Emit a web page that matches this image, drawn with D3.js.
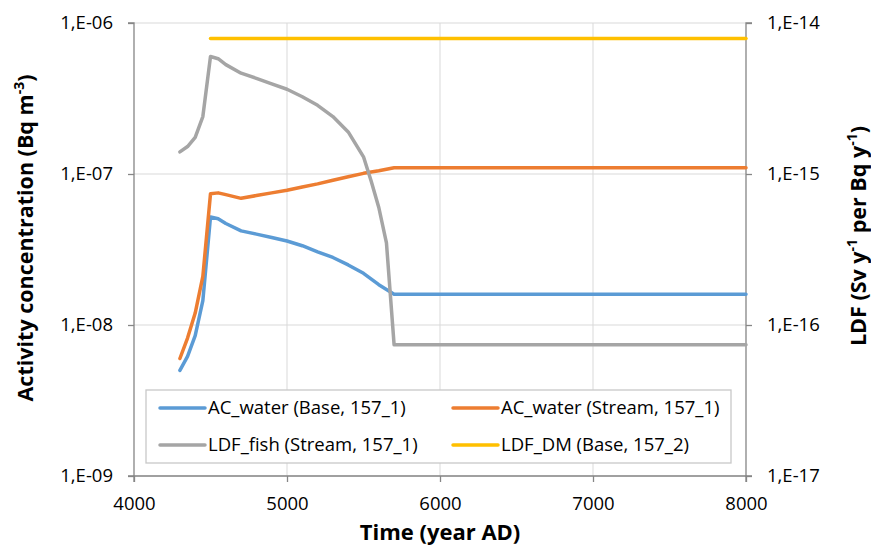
<!DOCTYPE html>
<html>
<head>
<meta charset="utf-8">
<script src="https://d3js.org/d3.v7.min.js"></script>
<style>
  body { margin: 0; background: #fff; }
  text { font-family: "Open Sans", sans-serif; fill: #000; }
</style>
</head>
<body>
<svg id="vis"></svg>
<script>
  // data
  var years = [4300, 4350, 4400, 4450, 4500, 4550, 4600, 4700, 4800, 4900, 5000,
               5100, 5200, 5300, 5400, 5500, 5600, 5700, 8000]
  var acBase = [5.0e-9, 6.2e-9, 8.5e-9, 1.45e-8, 5.2e-8, 5.05e-8, 4.7e-8, 4.2e-8, 4.0e-8, 3.8e-8, 3.6e-8,
                3.35e-8, 3.05e-8, 2.8e-8, 2.5e-8, 2.2e-8, 1.85e-8, 1.6e-8, 1.6e-8]
  var acStream = [6.0e-9, 8.2e-9, 1.2e-8, 2.1e-8, 7.4e-8, 7.5e-8, 7.3e-8, 6.9e-8, 7.2e-8, 7.5e-8, 7.8e-8,
                  8.2e-8, 8.6e-8, 9.1e-8, 9.6e-8, 1.01e-7, 1.05e-7, 1.1e-7, 1.1e-7]
  var fishYears = [4300, 4350, 4400, 4450, 4500, 4550, 4600, 4700, 4800, 4900, 5000,
                   5100, 5200, 5300, 5400, 5500, 5550, 5600, 5650, 5700, 8000]
  var ldfFish = [1.4e-15, 1.52e-15, 1.75e-15, 2.4e-15, 6.0e-15, 5.8e-15, 5.3e-15, 4.65e-15, 4.3e-15, 3.95e-15, 3.64e-15,
                 3.25e-15, 2.85e-15, 2.4e-15, 1.9e-15, 1.3e-15, 9.0e-16, 6.0e-16, 3.5e-16, 7.4e-17, 7.4e-17]
  var dmYears = [4500, 8000]
  var ldfDM = [7.9e-15, 7.9e-15]

  var xTicks = [4000, 5000, 6000, 7000, 8000]
  var yLeftTicks = [1e-6, 1e-7, 1e-8, 1e-9]
  var yLeftLabels = ['1,E-06', '1,E-07', '1,E-08', '1,E-09']
  var yRightTicks = [1e-14, 1e-15, 1e-16, 1e-17]
  var yRightLabels = ['1,E-14', '1,E-15', '1,E-16', '1,E-17']

  var series = [
    {name: 'AC_water (Base, 157_1)', x: years, y: acBase, axis: 'left', color: '#5B9BD5'},
    {name: 'AC_water (Stream, 157_1)', x: years, y: acStream, axis: 'left', color: '#ED7D31'},
    {name: 'LDF_fish (Stream, 157_1)', x: fishYears, y: ldfFish, axis: 'right', color: '#A5A5A5'},
    {name: 'LDF_DM (Base, 157_2)', x: dmYears, y: ldfDM, axis: 'right', color: '#FFC000'}
  ]

  var margin = {top: 23, right: 125, bottom: 70, left: 134}
  var W = 871, H = 546
  var width = W - margin.left - margin.right
  var height = H - margin.top - margin.bottom

  var svg = d3.select('#vis').attr('width', W).attr('height', H)
  var g = svg.append('g').attr('transform', 'translate(' + margin.left + ',' + margin.top + ')')

  var x = d3.scaleLinear().domain([4000, 8000]).range([0, width])
  var yL = d3.scaleLog().domain([1e-9, 1e-6]).range([height, 0])
  var yR = d3.scaleLog().domain([1e-17, 1e-14]).range([height, 0])

  // gridlines
  g.append('g').selectAll('line.h')
    .data(yLeftTicks)
    .enter().append('line')
      .attr('x1', 0).attr('x2', width)
      .attr('y1', function (d) { return yL(d) }).attr('y2', function (d) { return yL(d) })
      .attr('stroke', '#d9d9d9').attr('stroke-width', 1)
  g.append('g').selectAll('line.v')
    .data(xTicks.slice(1, 4))
    .enter().append('line')
      .attr('y1', 0).attr('y2', height)
      .attr('x1', function (d) { return x(d) }).attr('x2', function (d) { return x(d) })
      .attr('stroke', '#d9d9d9').attr('stroke-width', 1)

  // axes
  var xAxis = d3.axisBottom(x).tickValues(xTicks).tickSize(6).tickFormat(d3.format('d'))
  var yAxisL = d3.axisLeft(yL).tickValues(yLeftTicks).tickSize(6)
    .tickFormat(function (d, i) { return yLeftLabels[i] })
  var yAxisR = d3.axisRight(yR).tickValues(yRightTicks).tickSize(6)
    .tickFormat(function (d, i) { return yRightLabels[i] })

  function styleAxis(sel) {
    sel.select('.domain').attr('stroke', '#868686').attr('stroke-width', 1.3)
    sel.selectAll('.tick line').attr('stroke', '#868686').attr('stroke-width', 1.3)
    sel.selectAll('.tick text').attr('font-size', 18.5).attr('font-family', '"Open Sans"').attr('fill', '#000')
  }

  var gx = g.append('g').attr('transform', 'translate(0,' + height + ')').call(xAxis)
  gx.call(styleAxis)
  gx.select('.domain').attr('d', 'M0,6V0H' + width + 'V6')
  gx.selectAll('.tick text').attr('y', 0).attr('dy', 29).attr('dominant-baseline', 'middle')

  var gl = g.append('g').call(yAxisL)
  gl.call(styleAxis)
  gl.select('.domain').attr('d', 'M-6,0H0V' + height + 'H-6')
  gl.selectAll('.tick text').attr('x', -21)

  var gr = g.append('g').attr('transform', 'translate(' + width + ',0)').call(yAxisR)
  gr.call(styleAxis)
  gr.select('.domain').attr('d', 'M6,0H0V' + height + 'H6')
  gr.selectAll('.tick text').attr('x', 21)

  // lines
  var lines = g.append('g')
  series.forEach(function (s) {
    var ys = s.axis === 'left' ? yL : yR
    var pts = s.x.map(function (v, i) { return [v, s.y[i]] })
    var line = d3.line()
      .x(function (d) { return x(d[0]) })
      .y(function (d) { return ys(d[1]) })
    lines.append('path')
      .datum(pts)
      .attr('d', line)
      .attr('fill', 'none')
      .attr('stroke', s.color)
      .attr('stroke-width', 3.5)
      .attr('stroke-linejoin', 'round')
      .attr('stroke-linecap', 'round')
  })

  // legend
  var lg = svg.append('g').attr('transform', 'translate(146,390)')
  lg.append('rect')
    .attr('width', 585).attr('height', 73)
    .attr('fill', '#fff').attr('stroke', '#c8c8c8').attr('stroke-width', 1.3)
  var cols = [14, 307]
  var rows = [18, 55]
  series.forEach(function (s, i) {
    var cx = cols[i % 2], cy = rows[Math.floor(i / 2)]
    lg.append('line')
      .attr('x1', cx).attr('x2', cx + 45)
      .attr('y1', cy).attr('y2', cy)
      .attr('stroke', s.color).attr('stroke-width', 3.5).attr('stroke-linecap', 'round')
    lg.append('text')
      .attr('x', cx + 48).attr('y', cy)
      .attr('dy', '0.35em')
      .attr('font-size', 18.5)
      .text(s.name)
  })

  // axis titles
  svg.append('text')
    .attr('x', margin.left + width / 2).attr('y', 540)
    .attr('text-anchor', 'middle')
    .attr('font-size', 22).attr('font-weight', 'bold')
    .text('Time (year AD)')

  var tl = svg.append('text')
    .attr('transform', 'translate(33,238) rotate(-90)')
    .attr('text-anchor', 'middle')
    .attr('font-size', 21.5).attr('font-weight', 'bold')
  tl.append('tspan').text('Activity concentration (Bq m')
  tl.append('tspan').attr('font-size', 14).attr('dy', -9).text('-3')
  tl.append('tspan').attr('dy', 9).text(')')

  var tr = svg.append('text')
    .attr('transform', 'translate(866,236) rotate(-90)')
    .attr('text-anchor', 'middle')
    .attr('font-size', 21.5).attr('font-weight', 'bold')
  tr.append('tspan').text('LDF (Sv y')
  tr.append('tspan').attr('font-size', 14).attr('dy', -9).text('-1')
  tr.append('tspan').attr('dy', 9).text(' per Bq y')
  tr.append('tspan').attr('font-size', 14).attr('dy', -9).text('-1')
  tr.append('tspan').attr('dy', 9).text(')')
</script>
</body>
</html>
